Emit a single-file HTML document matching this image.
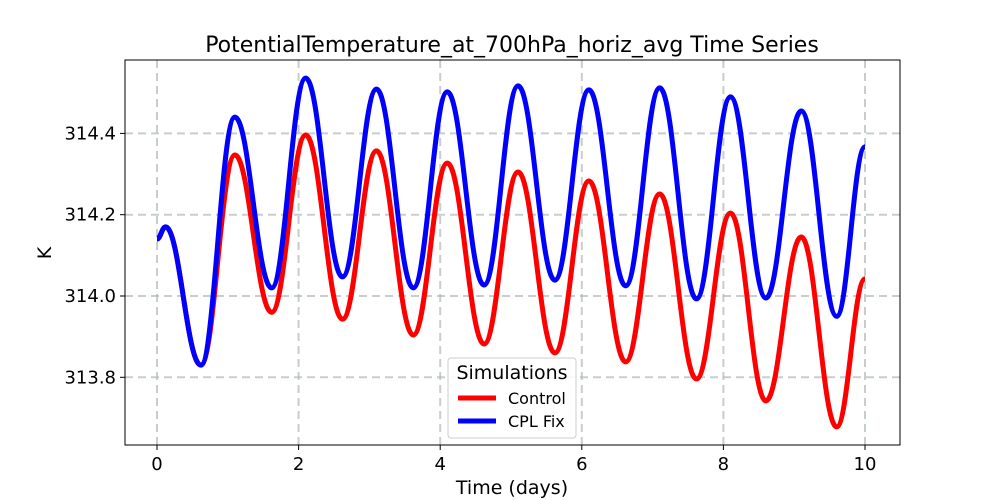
<!DOCTYPE html>
<html><head><meta charset="utf-8"><style>
body{margin:0;background:#fff}
svg{display:block;font-family:"DejaVu Sans","Liberation Sans",sans-serif}
</style></head><body>
<svg id="chart" width="1000" height="500" viewBox="0 0 1000 500">
<rect x="0" y="0" width="1000" height="500" fill="#fff"/>
<text x="512" y="52" text-anchor="middle" font-size="22" fill="#000">PotentialTemperature_at_700hPa_horiz_avg Time Series</text>
<g id="grid"></g>
<g id="series"></g>
<rect x="125" y="60" width="775" height="385" fill="none" stroke="#000" stroke-width="1"/>
<g id="ticks"></g>
<text x="512" y="494" text-anchor="middle" font-size="19">Time (days)</text>
<text x="51" y="253" text-anchor="middle" font-size="19" transform="rotate(-90 51 253)">K</text>
<g>
<rect x="448" y="358" width="128" height="80" rx="3" fill="#fff" fill-opacity="0.85" stroke="#ccc"/>
<text x="512" y="379" text-anchor="middle" font-size="19">Simulations</text>
<line x1="458" y1="398" x2="496" y2="398" stroke="#ff0000" stroke-width="5"/>
<text x="508" y="404" font-size="16">Control</text>
<line x1="458" y1="421" x2="496" y2="421" stroke="#0000ff" stroke-width="5"/>
<text x="508" y="427" font-size="16">CPL Fix</text>
</g>
</svg>
<script>
const xTicks=[0,2,4,6,8,10];
const yTicks=[313.8,314.0,314.2,314.4];
const times=[0,0.12,0.62,1.1,1.62,2.1,2.62,3.1,3.62,4.1,4.62,5.1,5.62,6.1,6.62,7.1,7.62,8.1,8.6,9.1,9.6,10];
const controlVals=[314.14,314.17,313.83,314.347,313.96,314.396,313.943,314.357,313.904,314.327,313.882,314.305,313.86,314.283,313.838,314.251,313.796,314.204,313.742,314.145,313.678,314.042];
const cplVals=[314.14,314.17,313.83,314.44,314.02,314.536,314.047,314.509,314.02,314.502,314.027,314.517,314.039,314.507,314.025,314.512,313.993,314.49,313.995,314.455,313.95,314.367];
const NS='http://www.w3.org/2000/svg';
const xS=t=>157+t*70.8;
const yS=v=>296-(v-314.0)*406.5;
const grid=document.getElementById('grid'),ticks=document.getElementById('ticks'),ser=document.getElementById('series');
function mk(tag,attrs,parent){const e=document.createElementNS(NS,tag);for(const k in attrs)e.setAttribute(k,attrs[k]);parent.appendChild(e);return e;}
xTicks.forEach(t=>{
 const g=mk('line',{x1:xS(t),x2:xS(t),y1:60,y2:445,stroke:'#b0b8b8','stroke-width':2,'stroke-dasharray':'8,5','stroke-opacity':0.7},grid);
 
 
 const tk=mk('line',{x1:xS(t),x2:xS(t),y1:445,y2:450,stroke:'#000'},ticks);
 
 
 const tx=mk('text',{x:xS(t),y:470,'text-anchor':'middle','font-size':18},ticks);tx.textContent=t;
 
 
});
yTicks.forEach(v=>{
 const g=mk('line',{x1:125,x2:900,y1:yS(v),y2:yS(v),stroke:'#b0b8b8','stroke-width':2,'stroke-dasharray':'8,5','stroke-opacity':0.7},grid);
 
 
 const tk=mk('line',{x1:120,x2:125,y1:yS(v),y2:yS(v),stroke:'#000'},ticks);
 
 
 const tx=mk('text',{x:116,y:yS(v)+6,'text-anchor':'end','font-size':18},ticks);tx.textContent=v.toFixed(1);
 
 
});
function pathFor(vals){
 let d='M'+xS(times[0])+','+yS(vals[0]);
 for(let i=1;i<times.length;i++){
  const x0=xS(times[i-1]),x1=xS(times[i]),y0=yS(vals[i-1]),y1=yS(vals[i]);
  const dx=(x1-x0)*0.4;
  d+=' C'+(x0+dx)+','+y0+' '+(x1-dx)+','+y1+' '+x1+','+y1;
 }
 return d;
}
const pc=mk('path',{d:pathFor(controlVals),fill:'none',stroke:'#ff0000','stroke-width':5,'stroke-linejoin':'round'},ser);


const pb=mk('path',{d:pathFor(cplVals),fill:'none',stroke:'#0000ff','stroke-width':5,'stroke-linejoin':'round'},ser);


</script>
</body></html>
